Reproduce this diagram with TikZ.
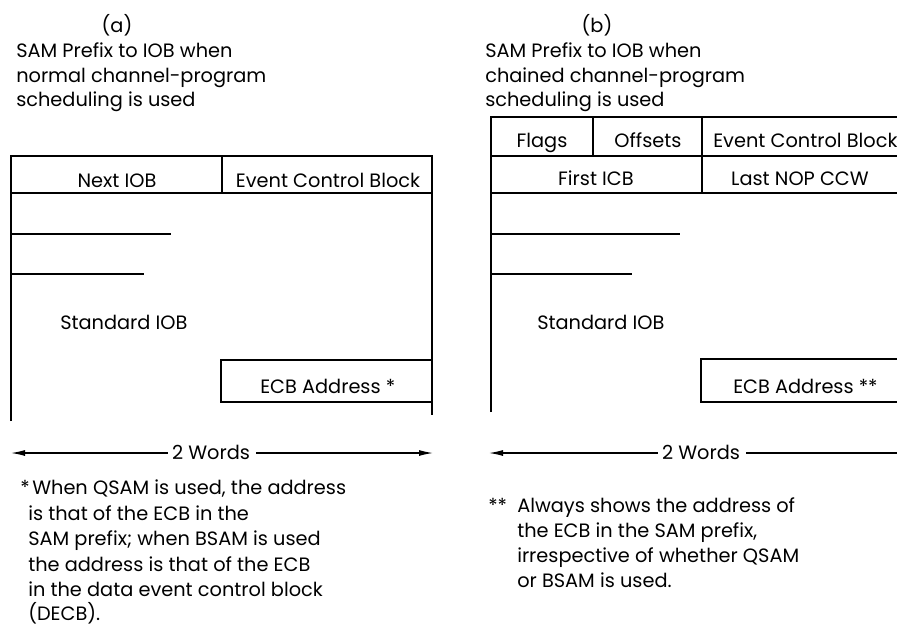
\documentclass[tikz,border=0pt]{standalone}
\usepackage{fontspec}
\setmainfont{Poppins}
\usetikzlibrary{arrows.meta}
\newcommand{\lblsize}{\fontsize{14.5}{18}\selectfont}
\begin{document}
\begin{tikzpicture}[x=0.75pt,y=-0.75pt,
  txt/.style={inner sep=0pt, font=\lblsize},
  lft/.style={txt, anchor=base west},
  ctr/.style={txt, anchor=base},
  rule/.style={line width=1.3pt},
  dim/.style={line width=0.9pt},
  tip/.style={-{Latex[length=14pt*0.75,width=6pt*0.75]}}]
\useasboundingbox (0,0) rectangle (897,640);
\clip (0,0) rectangle (897,640);

% ---------------- (a) ----------------
\node[ctr] (a-tag) at (117,32) {(a)};
\node[lft] (a-t1) at (16,57) {SAM Prefix to IOB when};
\node[lft] (a-t2) at (16,82) {normal channel-program};
\node[lft] (a-t3) at (16,106) {scheduling is used};

\draw[rule] (11,421) -- (11,156) -- (432,156) -- (432,415);
\draw[rule] (11,193) -- (432,193);
\draw[rule] (222,156) -- (222,193);
\draw[rule] (11,234) -- (171,234);
\draw[rule] (11,274) -- (144,274);
\draw[rule] (432,360) -- (221,360) -- (221,402) -- (432,402);

\node[ctr] (a-next) at (117,187) {Next IOB};
\node[ctr] (a-ecb) at (328,187) {Event Control Block};
\node[lft] (a-std) at (60,329) {Standard IOB};
\node[lft] (a-addr) at (260,393) {ECB Address *};

\node[ctr] (a-words) at (211,459) {2 Words};
\coordinate (a-wl) at (11,453);
\coordinate (a-wr) at (433,453);
\draw[dim,tip] (a-words.west |- a-wl) ++(-4,0) -- (a-wl);
\draw[dim,tip] (a-words.east |- a-wr) ++(6,0) -- (a-wr);

\node[lft] (a-star) at (20,494) {*};
\node[lft] (a-f1) at (32,494) {When QSAM is used, the address};
\node[lft] (a-f2) at (28,520) {is that of the ECB in the};
\node[lft] (a-f3) at (28,545) {SAM prefix; when BSAM is used};
\node[lft] (a-f4) at (28,571) {the address is that of the ECB};
\node[lft] (a-f5) at (28,596) {in the data event control block};
\node[lft] (a-f6) at (28,620) {(DECB).};

% ---------------- (b) ----------------
\node[ctr] (b-tag) at (597,32) {(b)};
\node[lft] (b-t1) at (485,57) {SAM Prefix to IOB when};
\node[lft] (b-t2) at (485,82) {chained channel-program};
\node[lft] (b-t3) at (485,106) {scheduling is used};

\draw[rule] (491,412) -- (491,117) -- (910,117);
\draw[rule] (491,156) -- (910,156);
\draw[rule] (491,193) -- (910,193);
\draw[rule] (593,117) -- (593,156);
\draw[rule] (702,117) -- (702,193);
\draw[rule] (491,234) -- (680,234);
\draw[rule] (491,274) -- (632,274);
\draw[rule] (910,359) -- (701,359) -- (701,402) -- (910,402);

\node[ctr] (b-flags) at (542,147) {Flags};
\node[ctr] (b-offs) at (648,147) {Offsets};
\node[lft] (b-ecb) at (713,147) {Event Control Block};
\node[ctr] (b-first) at (596,185) {First ICB};
\node[ctr] (b-last) at (800,185) {Last NOP CCW};
\node[lft] (b-std) at (537,329) {Standard IOB};
\node[lft] (b-addr) at (733,393) {ECB Address **};

\node[ctr] (b-words) at (701,459) {2 Words};
\coordinate (b-wl) at (489,453);
\coordinate (b-wr) at (912,453);
\draw[dim,tip] (b-words.west |- b-wl) ++(-4,0) -- (b-wl);
\draw[dim,tip] (b-words.east |- b-wr) ++(6,0) -- (b-wr);

\node[lft] (b-star) at (488,512) {**};
\node[lft] (b-f1) at (517,512) {Always shows the address of};
\node[lft] (b-f2) at (517,537) {the ECB in the SAM prefix,};
\node[lft] (b-f3) at (517,562) {irrespective of whether QSAM};
\node[lft] (b-f4) at (517,587) {or BSAM is used.};
\end{tikzpicture}
\end{document}
